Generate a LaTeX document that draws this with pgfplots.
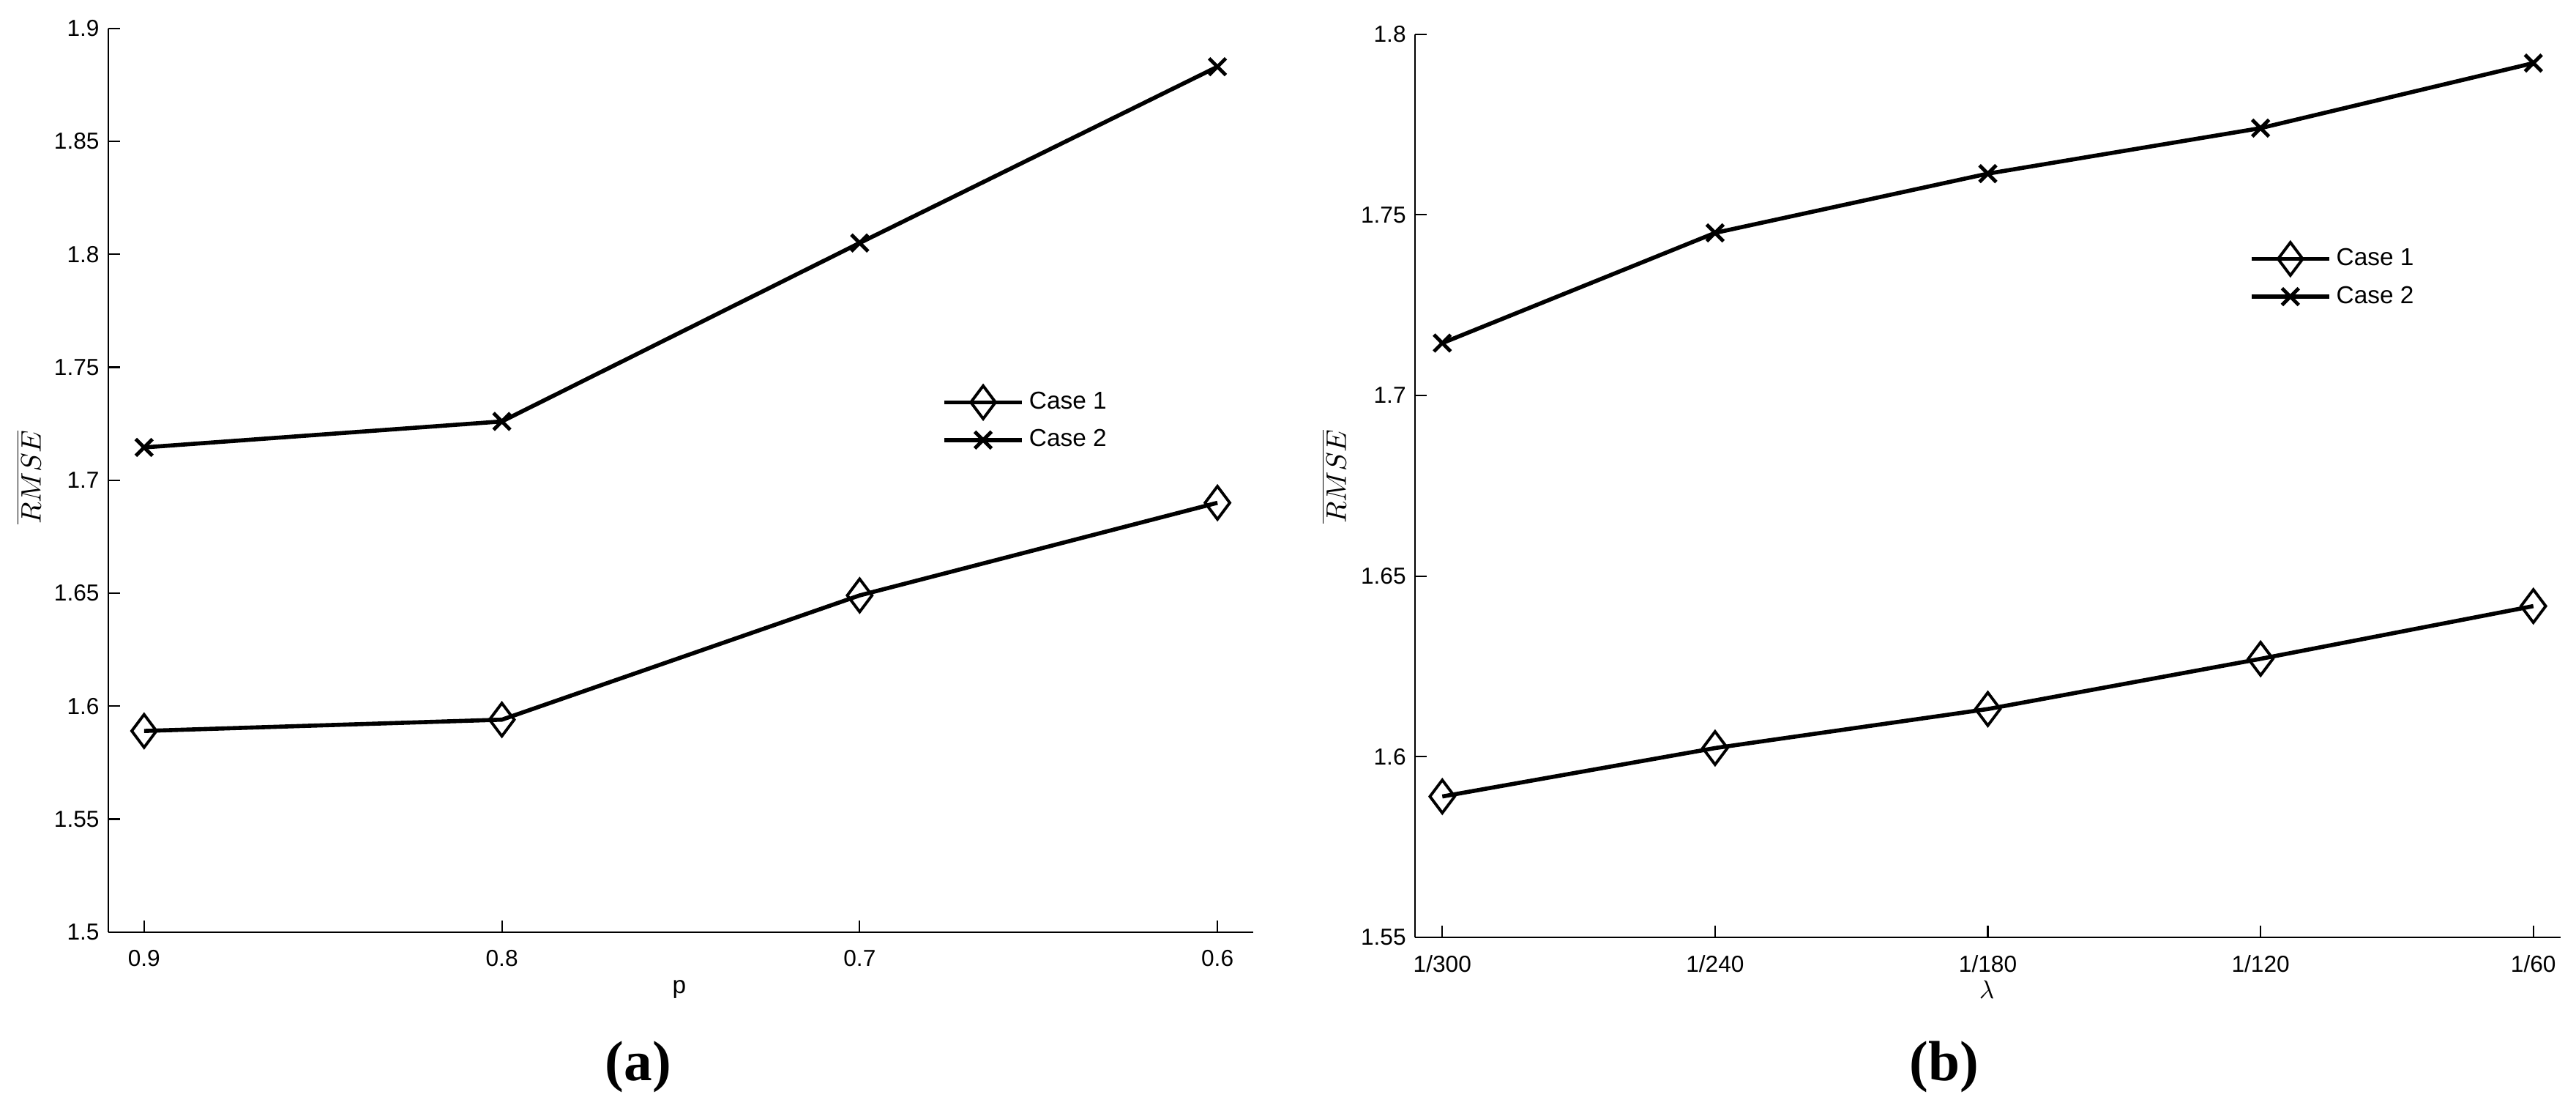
\documentclass[border=0pt]{standalone}
\usepackage{pgfplots}
\pgfplotsset{compat=1.18}
\usepackage{fontspec}
\setmainfont{Liberation Sans}
\newfontfamily\capfont{Liberation Serif}

\pgfplotsset{
  myaxis/.style={
    scale only axis,
    anchor=south west,
    axis x line=bottom, axis y line=left,
    axis line style={-, line width=0.6pt},
    tick align=inside,
    major tick length=0.16cm,
    tick style={line width=0.6pt, black},
    /pgf/number format/assume math mode=true,
    tick label style={font=\fontsize{9}{10}\selectfont},
    xticklabel style={yshift=-3.5pt},
    clip=false,
    legend cell align=left,
    legend image code/.code={\draw[mark repeat=2,mark phase=2,#1] plot coordinates {(0cm,0cm) (0.53cm,0cm) (1.06cm,0cm)};},
    legend style={draw=none, fill=none, anchor=north west, inner sep=0pt, row sep=2.2pt,
      font=\fontsize{9.5}{11}\selectfont, nodes={inner sep=2pt, text depth=0.15em}},
  },
  c1/.style={black, line width=1.6pt, mark=diamond, mark size=6.4pt, mark options={line width=1.1pt, solid}},
  c2/.style={black, line width=1.6pt, mark=x, mark size=4.6pt, mark options={line width=1.4pt, solid}},
}

\begin{document}
\begin{tikzpicture}
\path[use as bounding box] (0,0) rectangle (35.19,15.12);

% (a)
\begin{axis}[myaxis,
  at={(1.48cm,2.393cm)}, width=15.64cm, height=12.34cm,
  x dir=reverse, xmin=0.59, xmax=0.91, ymin=1.5, ymax=1.9,
  xtick={0.6,0.7,0.8,0.9}, xticklabels={0.6,0.7,0.8,0.9},
  ytick={1.5,1.55,1.6,1.65,1.7,1.75,1.8,1.85,1.9},
  yticklabels={1.5,1.55,1.6,1.65,1.7,1.75,1.8,1.85,1.9},
  legend style={at={(0.728,0.605)}},
]
\addplot[c1] coordinates {(0.9,1.589) (0.8,1.594) (0.7,1.649) (0.6,1.690)};
\addplot[c2] coordinates {(0.9,1.7145) (0.8,1.726) (0.7,1.805) (0.6,1.883)};
\legend{Case 1, Case 2}
\end{axis}

% (b)
\begin{axis}[myaxis,
  at={(19.33cm,2.32cm)}, width=15.65cm, height=12.333cm,
  xmin=-0.1, xmax=4.1, ymin=1.55, ymax=1.8,
  xtick={0,1,2,3,4}, xticklabels={1/300,1/240,1/180,1/120,1/60},
  ytick={1.55,1.6,1.65,1.7,1.75,1.8},
  yticklabels={1.55,1.6,1.65,1.7,1.75,1.8},
  legend style={at={(0.728,0.770)}},
]
\addplot[c1] coordinates {(0,1.589) (1,1.6024) (2,1.6132) (3,1.6271) (4,1.6417)};
\addplot[c2] coordinates {(0,1.7145) (1,1.745) (2,1.7614) (3,1.774) (4,1.792)};
\legend{Case 1, Case 2}
\end{axis}

\node[rotate=90, font=\fontsize{11}{13}\selectfont] at (0.39,8.60) {$\overline{RMSE}$};
\node[rotate=90, font=\fontsize{11}{13}\selectfont] at (18.22,8.61) {$\overline{RMSE}$};
\node[anchor=base, font=\fontsize{9.5}{11}\selectfont, inner sep=0pt] at (9.28,1.56) {p};
\node[anchor=base, font=\fontsize{10}{12}\selectfont, inner sep=0pt] at (27.14,1.49) {$\lambda$};
\node[anchor=base, font=\capfont\bfseries\fontsize{22}{26}\selectfont, inner sep=0pt] at (8.72,0.37) {(a)};
\node[anchor=base, font=\capfont\bfseries\fontsize{22}{26}\selectfont, inner sep=0pt] at (26.56,0.37) {(b)};
\end{tikzpicture}
\end{document}
